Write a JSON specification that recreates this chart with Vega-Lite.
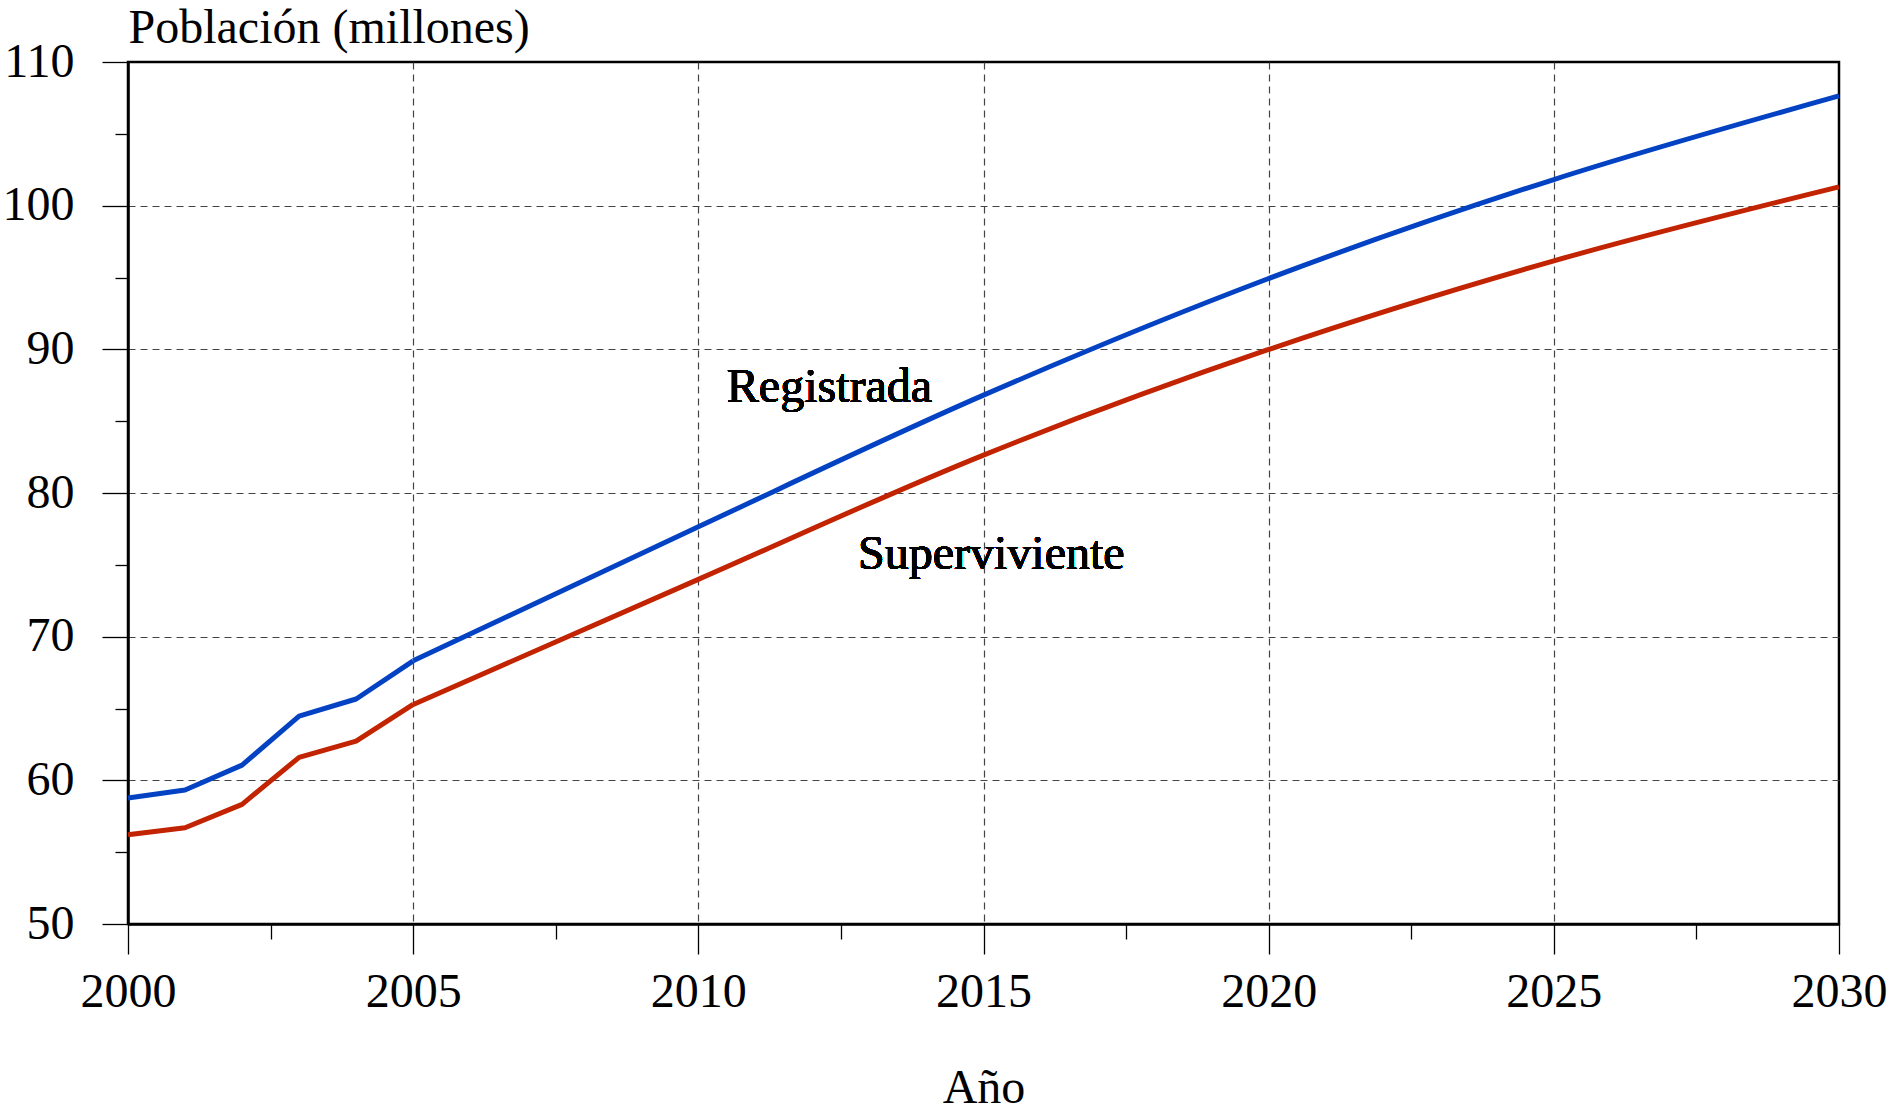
{
  "$schema": "https://vega.github.io/schema/vega-lite/v6.json",
  "width": 1711,
  "height": 862,
  "autosize": {"type": "none"},
  "padding": {"left": 128, "top": 62, "right": 57, "bottom": 187},
  "background": "white",
  "config": {
    "view": {"stroke": "black", "strokeWidth": 2.5},
    "axis": {
      "labelFont": "Liberation Serif",
      "labelFontSize": 48,
      "labelColor": "black",
      "titleFont": "Liberation Serif",
      "titleFontSize": 48,
      "titleFontWeight": "normal",
      "titleColor": "black",
      "domainColor": "black",
      "domainWidth": 2.5,
      "tickColor": "black",
      "tickWidth": 1.3,
      "gridColor": "#444444",
      "gridWidth": 1.2,
      "gridDash": [7, 5],
      "labelOverlap": false,
      "labelFlush": false,
      "labelBound": false
    }
  },
  "data": {
    "values": [
      {"year": 2000, "serie": "Registrada", "pob": 58.77},
      {"year": 2001, "serie": "Registrada", "pob": 59.33},
      {"year": 2002, "serie": "Registrada", "pob": 61.06},
      {"year": 2003, "serie": "Registrada", "pob": 64.47},
      {"year": 2004, "serie": "Registrada", "pob": 65.66},
      {"year": 2005, "serie": "Registrada", "pob": 68.32},
      {"year": 2010, "serie": "Registrada", "pob": 77.65},
      {"year": 2015, "serie": "Registrada", "pob": 86.81},
      {"year": 2020, "serie": "Registrada", "pob": 94.93},
      {"year": 2025, "serie": "Registrada", "pob": 101.82},
      {"year": 2030, "serie": "Registrada", "pob": 107.64},
      {"year": 2000, "serie": "Superviviente", "pob": 56.21},
      {"year": 2001, "serie": "Superviviente", "pob": 56.7},
      {"year": 2002, "serie": "Superviviente", "pob": 58.33},
      {"year": 2003, "serie": "Superviviente", "pob": 61.6},
      {"year": 2004, "serie": "Superviviente", "pob": 62.73},
      {"year": 2005, "serie": "Superviviente", "pob": 65.28},
      {"year": 2010, "serie": "Superviviente", "pob": 73.99},
      {"year": 2015, "serie": "Superviviente", "pob": 82.64},
      {"year": 2020, "serie": "Superviviente", "pob": 89.99},
      {"year": 2025, "serie": "Superviviente", "pob": 96.16},
      {"year": 2030, "serie": "Superviviente", "pob": 101.31}
    ]
  },
  "encoding": {
    "x": {
      "field": "year",
      "type": "quantitative",
      "scale": {"domain": [2000, 2030], "nice": false, "zero": false},
      "axis": {
        "title": "Año",
        "values": [2000, 2002.5, 2005, 2007.5, 2010, 2012.5, 2015, 2017.5, 2020, 2022.5, 2025, 2027.5, 2030],
        "format": "d",
        "labelExpr": "datum.value % 5 === 0 ? format(datum.value, 'd') : ''",
        "tickSize": {"condition": {"test": "datum.value % 5 === 0", "value": 30}, "value": 15},
        "labelPadding": 14,
        "grid": true,
        "gridOpacity": {"condition": {"test": "datum.value % 5 === 0 && datum.value > 2000 && datum.value < 2030", "value": 1}, "value": 0},
        "titleBaseline": "alphabetic",
        "titleY": 178
      }
    },
    "y": {
      "field": "pob",
      "type": "quantitative",
      "scale": {"domain": [50, 110], "nice": false, "zero": false},
      "axis": {
        "title": "Población (millones)",
        "values": [50, 55, 60, 65, 70, 75, 80, 85, 90, 95, 100, 105, 110],
        "labelExpr": "datum.value % 10 === 0 ? format(datum.value, 'd') : ''",
        "tickSize": {"condition": {"test": "datum.value % 10 === 0", "value": 26}, "value": 13},
        "labelPadding": 28,
        "grid": true,
        "gridOpacity": {"condition": {"test": "datum.value % 10 === 0 && datum.value > 50 && datum.value < 110", "value": 1}, "value": 0},
        "titleAngle": 0,
        "titleAlign": "left",
        "titleBaseline": "alphabetic",
        "titleX": 0,
        "titleY": -20
      }
    }
  },
  "layer": [
    {
      "transform": [{"filter": "datum.year <= 2005"}],
      "mark": {"type": "line", "strokeWidth": 5, "interpolate": "linear", "strokeJoin": "round"},
      "encoding": {
        "color": {
          "field": "serie",
          "type": "nominal",
          "scale": {"domain": ["Registrada", "Superviviente"], "range": ["#0343C3", "#C22300"]},
          "legend": null
        }
      }
    },
    {
      "transform": [{"filter": "datum.year >= 2005"}],
      "mark": {"type": "line", "strokeWidth": 5, "interpolate": "monotone", "strokeJoin": "round"},
      "encoding": {
        "color": {
          "field": "serie",
          "type": "nominal",
          "scale": {"domain": ["Registrada", "Superviviente"], "range": ["#0343C3", "#C22300"]},
          "legend": null
        }
      }
    },
    {
      "mark": {"type": "text", "text": "Registrada", "font": "Liberation Serif", "fontSize": 48, "fontWeight": "normal", "align": "left", "baseline": "alphabetic", "color": "black"},
      "encoding": {"x": {"datum": 2010.5}, "y": {"datum": 86.35}}
    },
    {
      "mark": {"type": "text", "text": "Superviviente", "font": "Liberation Serif", "fontSize": 48, "fontWeight": "normal", "align": "left", "baseline": "alphabetic", "color": "black"},
      "encoding": {"x": {"datum": 2012.8}, "y": {"datum": 74.68}}
    }
  ]
}
